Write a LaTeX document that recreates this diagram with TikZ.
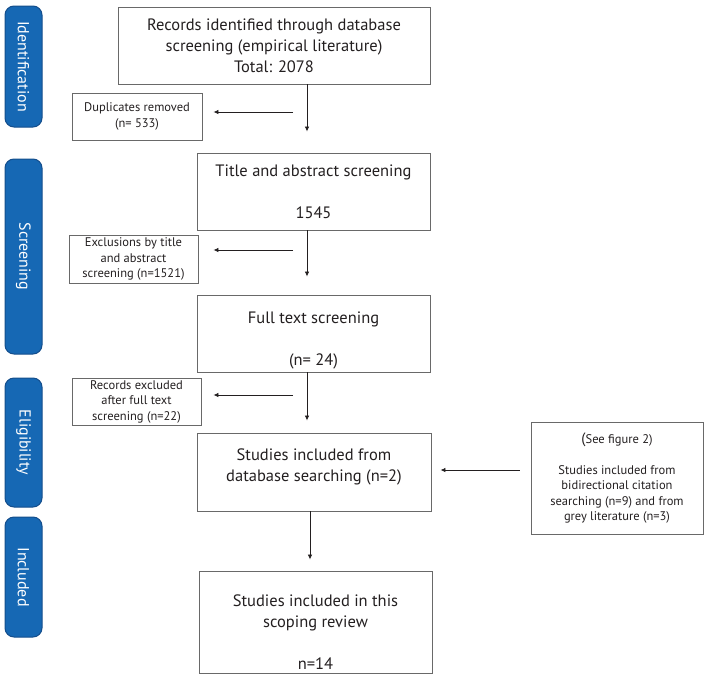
\documentclass[tikz,border=0pt]{standalone}
\usepackage{fontspec}
\setmainfont{PT Sans}
\usetikzlibrary{arrows.meta}
\definecolor{tabblue}{RGB}{22,104,180}
\definecolor{tabedge}{RGB}{20,78,140}
\definecolor{boxgray}{RGB}{105,105,105}
\definecolor{txt}{RGB}{35,31,32}
\tikzset{
  box/.style={draw=boxgray, line width=0.9pt, align=center, inner sep=2pt, text=txt,
    font=\fontsize{16.5}{21}\selectfont},
  smallbox/.style={box, font=\fontsize{12.5}{15.5}\selectfont},
  tab/.style={draw=tabedge, fill=tabblue, line width=1pt, rounded corners=9pt, rotate=-90,
    minimum height=37pt, text=white, font=\fontsize{16}{18}\selectfont},
  arr/.style={draw=txt, line width=0.8pt, -{Latex[length=5pt,width=4.5pt]}}
}

\begin{document}
\begin{tikzpicture}[x=1pt,y=-1pt]
                \useasboundingbox (0,0) rectangle (707,675);

                % Phase tabs
                \node[tab, minimum width=121pt] (tabid)  at (23.5,66.5) {Identification};
                \node[tab, minimum width=195pt] (tabscr) at (23.5,256.5) {Screening};
                \node[tab, minimum width=129pt] (tabel)  at (23.5,442.5) {Eligibility};
                \node[tab, minimum width=120pt] (tabinc) at (23.5,577) {Included};

                % Main column
                \node[box, minimum width=312pt, minimum height=77pt] (src) at (274,45.5)
                  {Records identified through database\\screening (empirical literature)\\Total: 2078};
                \node[box, minimum width=233pt, minimum height=77pt] (tas) at (313.5,191.5)
                  {Title and abstract screening\\[21pt]1545};
                \node[box, minimum width=233pt, minimum height=77pt] (full) at (313.5,333.5)
                  {\rule{0pt}{26pt}Full text screening\\[21pt](n= 24)};
                \node[box, minimum width=234pt, minimum height=78pt] (incl) at (314,472)
                  {Studies included from\\database searching (n=2)\rule[-14pt]{0pt}{0pt}};
                \node[box, minimum width=233pt, minimum height=102pt] (final) at (315.5,622)
                  {\rule{0pt}{32pt}Studies included in this\\scoping review\\[21pt]n=14};

                % Exclusions
                \node[smallbox, minimum width=130pt, minimum height=47pt] (dup) at (137,116.5)
                  {Duplicates removed\\(n= 533)};
                \node[smallbox, minimum width=129pt, minimum height=48pt] (excl) at (133.5,259)
                  {Exclusions by title\\and abstract\\screening (n=1521)};
                \node[smallbox, minimum width=129pt, minimum height=47pt] (fexcl) at (136.5,401.5)
                  {Records excluded\\after full text\\screening (n=22)};

                % Other sources
                \node[smallbox, minimum width=172pt, minimum height=112pt] (other) at (617,478)
                  {{\fontsize{15}{15.5}\selectfont(}See figure 2)\\[15.5pt]Studies included from\\bidirectional citation\\searching (n=9) and from\\grey literature (n=3)};

                % Flow
                \coordinate (col) at (307,0);
                \coordinate (col2) at (310,0);
                \draw[arr, shorten >=21pt] (src.south -| col) -- (tas.north -| col);
                \draw[arr, shorten >=18pt] (tas.south -| col) -- (full.north -| col);
                \draw[arr, shorten >=12pt] (full.south -| col) -- (incl.north -| col);
                \draw[arr, shorten >=11pt] (incl.south -| col2) -- (final.north -| col2);
                \draw[arr, shorten <=11pt, shorten >=9pt] (other.west |- 0,470) -- (incl.east |- 0,470);

                % Removed records
                \coordinate (out1) at (293,112);
                \coordinate (out2) at (293,250);
                \coordinate (out3) at (293,395);
                \draw[arr, shorten >=11pt] (out1) -- (dup.east |- out1);
                \draw[arr, shorten >=15pt] (out2) -- (excl.east |- out2);
                \draw[arr, shorten >=12pt] (out3) -- (fexcl.east |- out3);
\end{tikzpicture}
\end{document}
